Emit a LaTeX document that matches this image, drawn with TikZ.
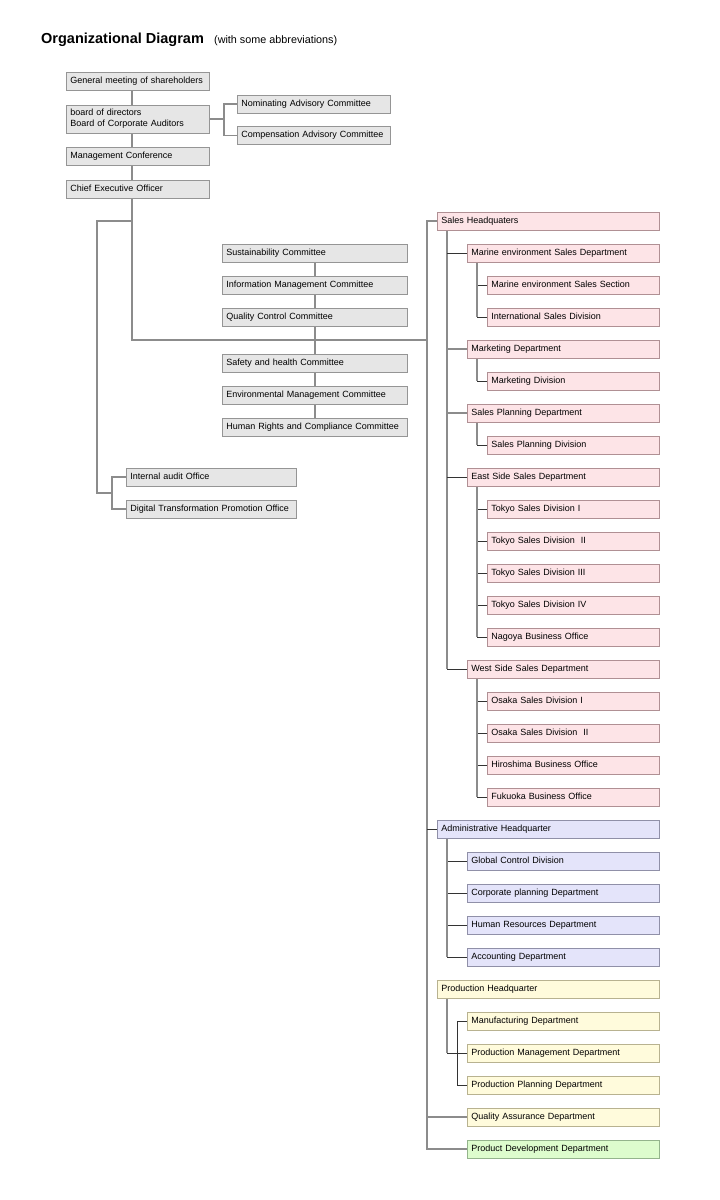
\documentclass[tikz,border=0pt]{standalone}
\usepackage{fontspec}
\setmainfont{Liberation Sans}
\usetikzlibrary{backgrounds}
\definecolor{boxgray}{HTML}{E6E6E6}
\definecolor{edgegray}{HTML}{959595}
\definecolor{pinkfill}{HTML}{FDE4E7}
\definecolor{pinkedge}{HTML}{B09094}
\definecolor{lilacfill}{HTML}{E4E4FA}
\definecolor{lilacedge}{HTML}{9090A8}
\definecolor{creamfill}{HTML}{FFFBDC}
\definecolor{creamedge}{HTML}{B8B290}
\definecolor{mintfill}{HTML}{DDFCCD}
\definecolor{mintedge}{HTML}{94B48C}
\definecolor{linegray}{HTML}{8C8C8C}
\tikzset{
  box/.style={draw=edgegray, fill=boxgray, line width=0.8bp, anchor=west, align=left,
    inner xsep=4bp, inner ysep=0pt, minimum height=18bp, text height=6.6bp, text depth=2.2bp,
    font=\fontsize{9bp}{11bp}\selectfont},
  top/.style={box, text width=135bp},
  bcom/.style={box, text width=145bp},
  com/.style={box, text width=177bp},
  off/.style={box, text width=162bp},
  hq/.style={box, text width=214bp},
  dept/.style={box, text width=184bp, xshift=30bp},
  sect/.style={box, text width=164bp, xshift=50bp},
  pinkbox/.style={fill=pinkfill, draw=pinkedge},
  lilacbox/.style={fill=lilacfill, draw=lilacedge},
  creambox/.style={fill=creamfill, draw=creamedge},
  mintbox/.style={fill=mintfill, draw=mintedge},
  link/.style={draw=linegray, line width=1.6bp},
  tick/.style={draw=black!80, line width=0.8bp},
}
\begin{document}
\begin{tikzpicture}[x=1bp, y=-1bp]
    \useasboundingbox (0,0) rectangle (720,1200);
    \node[anchor=base west, inner sep=0, font=\fontsize{14.5bp}{17bp}\selectfont\bfseries] (title) at (41,43) {Organizational Diagram};
    \node[anchor=base west, inner sep=0, font=\fontsize{10.8bp}{13bp}\selectfont] (subtitle) at (214,43) {(with some abbreviations)};
    % top of the company
    \node[top] (gm) at (66,81) {General meeting of shareholders};
    \node[top, minimum height=28bp, text depth=13.2bp] (board) at (66,119) {board of directors\\Board of Corporate Auditors};
    \node[top] (mc) at (66,156.5) {Management Conference};
    \node[top] (ceo) at (66,189) {Chief Executive Officer};
    \node[bcom] (nom) at (237,104) {Nominating Advisory Committee};
    \node[bcom] (comp) at (237,135.5) {Compensation Advisory Committee};
    \foreach \nm/\y/\txt in {sus/253/Sustainability Committee, info/285/Information Management Committee,
        qc/317/Quality Control Committee, safe/363/Safety and health Committee,
        env/395/Environmental Management Committee, rights/427/Human Rights and Compliance Committee}
      \node[com] (\nm) at (222,\y) {\txt};
    \node[off] (audit) at (126,477) {Internal audit Office};
    \node[off] (dx) at (126,509) {Digital Transformation Promotion Office};
    % headquarters column
    \foreach [count=\k from 0] \nm/\lvl/\col/\txt in {
        sales/hq/pinkbox/Sales Headquaters,
        marine/dept/pinkbox/Marine environment Sales Department,
        msec/sect/pinkbox/Marine environment Sales Section,
        intl/sect/pinkbox/International Sales Division,
        mkt/dept/pinkbox/Marketing Department,
        mktdiv/sect/pinkbox/Marketing Division,
        spd/dept/pinkbox/Sales Planning Department,
        spdiv/sect/pinkbox/Sales Planning Division,
        east/dept/pinkbox/East Side Sales Department,
        tk1/sect/pinkbox/Tokyo Sales Division I,
        tk2/sect/pinkbox/Tokyo Sales Division~ II,
        tk3/sect/pinkbox/Tokyo Sales Division~III,
        tk4/sect/pinkbox/Tokyo Sales Division~IV,
        ngy/sect/pinkbox/Nagoya Business Office,
        west/dept/pinkbox/West Side Sales Department,
        os1/sect/pinkbox/Osaka Sales Division I,
        os2/sect/pinkbox/Osaka Sales Division~ II,
        hrs/sect/pinkbox/Hiroshima Business Office,
        fko/sect/pinkbox/Fukuoka Business Office,
        adm/hq/lilacbox/Administrative Headquarter,
        glb/dept/lilacbox/Global Control Division,
        corp/dept/lilacbox/Corporate planning Department,
        hrd/dept/lilacbox/Human Resources Department,
        acc/dept/lilacbox/Accounting Department,
        ph/hq/creambox/Production Headquarter,
        manu/dept/creambox/Manufacturing Department,
        pm/dept/creambox/Production Management Department,
        pp/dept/creambox/Production Planning Department,
        qa/dept/creambox/Quality Assurance Department,
        pd/dept/mintbox/Product Development Department}
      \node[\lvl,\col] (\nm) at (437,221+32*\k) {\txt};
    \begin{scope}[on background layer]
      \fill[white] (0,0) rectangle (720,1200);
      \coordinate (spine) at (132,0);
      \coordinate (hub) at (427,340);
      \draw[link] (gm.south -| spine) -- (hub -| spine) -- (hub);
      \draw[link] (board.east) -- ++(14,0) coordinate (bfork);
      \draw[link] (nom.west) -| (bfork) |- (comp.west);
      \draw[link] (sus) -- (rights);
      \draw[link] (spine |- 0,221) -| (97,493) -- ++(15,0) coordinate (ofork);
      \draw[link] (audit.west) -| (ofork) |- (dx.west);
      % trunk to the headquarters
      \draw[link] (sales.west) -- ++(-10,0) coordinate (trunk) |- (pd.west);
      \draw[tick] (adm.west) -- (adm.west -| trunk);
      \draw[link] (qa.west) -- (qa.west -| trunk);
      \draw[link] (sales.south west) ++(10,0) coordinate (xsales) -- (xsales |- west.west);
      \foreach \d in {marine,east,west} \draw[tick] (\d.west) -- (\d.west -| xsales);
      \foreach \d in {mkt,spd} \draw[link] (\d.west) -- (\d.west -| xsales);
      \foreach \d/\subs in {marine/{msec,intl}, mkt/mktdiv, spd/spdiv, east/{tk1,tk2,tk3,tk4,ngy},
          west/{os1,os2,hrs,fko}, adm/{glb,corp,hrd,acc}} {
        \draw[link] (\d.south west) ++(10,0) coordinate (x\d);
        \foreach \s in \subs {
          \draw[link] (x\d) -- (x\d |- \s.west);
          \draw[tick] (\s.west) -- (\s.west -| x\d);
        }
      }
      \draw[link] (ph.south west) ++(10,0) coordinate (xph) -- (xph |- pm.west);
      \draw[tick] (xph |- pm.west) -- (pm.west);
      \path (xph) ++(10,0) coordinate (xpp);
      \draw[tick] (manu.west) -- (manu.west -| xpp) |- (pp.west);
    \end{scope}
\end{tikzpicture}
\end{document}
